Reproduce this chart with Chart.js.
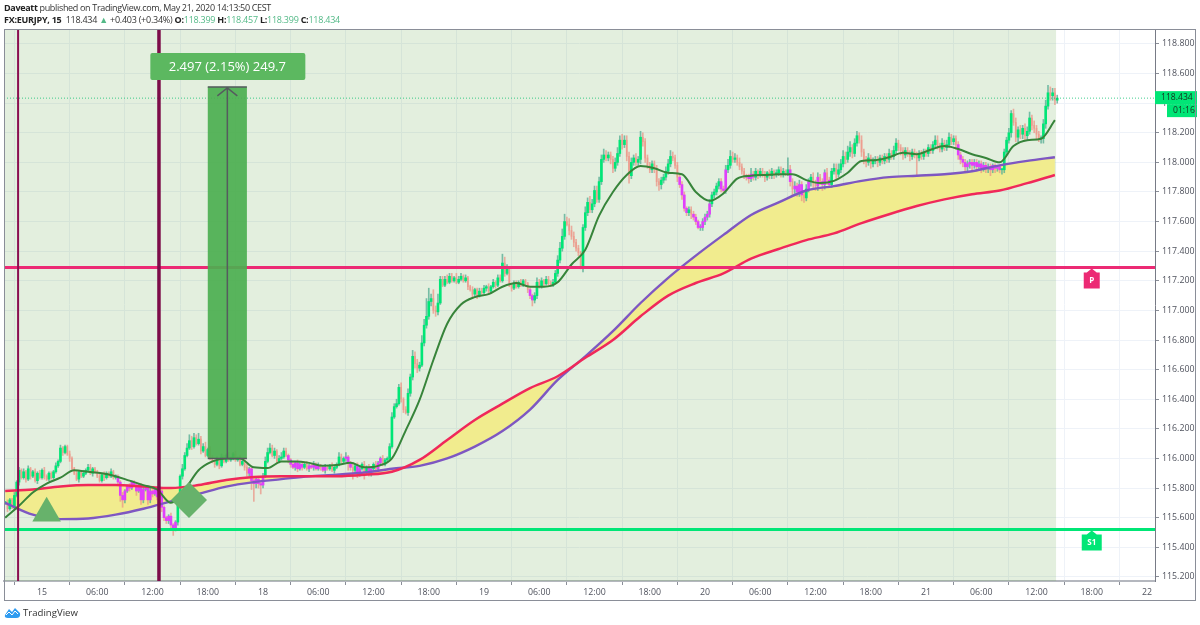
<!DOCTYPE html>
<html>
<head>
<meta charset="utf-8">
<title>FX:EURJPY, 15</title>
<script src="https://cdn.jsdelivr.net/npm/chart.js@4"></script>
<style>
html, body { margin: 0; padding: 0; background: #fff; }
#wrap { position: relative; width: 1200px; height: 625px; overflow: hidden; font-family: "Open Sans", sans-serif; color: #333; }
canvas { position: absolute; left: 0; top: 0; }
.txt { position: absolute; left: 4px; font-size: 9px; letter-spacing: -0.33px; line-height: 12px; white-space: nowrap; }
.txt b { color: #222; }
.up { color: #53b987; }
#logo { position: absolute; left: 4px; top: 606px; }
#brand { position: absolute; left: 23px; top: 606px; font-size: 9.6px; line-height: 13px; color: #333; }
</style>
</head>
<body>
<div id="wrap">
  <canvas id="myChart" width="1200" height="625"></canvas>
  <div class="txt" style="top:2px"><b>Daveatt</b> published on TradingView.com, May 21, 2020 14:13:50 CEST</div>
  <div class="txt" style="top:14px;letter-spacing:-0.25px"><b>FX:EURJPY, 15</b>&nbsp; 118.434 <span class="up">▲</span> +0.403 (+0.34%) <b>O:</b><span class="up">118.399</span> <b>H:</b><span class="up">118.457</span> <b>L:</b><span class="up">118.399</span> <b>C:</b><span class="up">118.434</span></div>
  <svg id="logo" width="17" height="13" viewBox="0 0 17 13"><path d="M1 9 L5 3 L8 6 L11 2 L16 7 Q17 12 12 12 L4 12 Q0 12 1 9 Z" fill="#2f9bf0"/><path d="M2 9 L5 6 L8 9 L11 5 L14 8" stroke="#fff" stroke-width="1" fill="none"/></svg>
  <div id="brand">TradingView</div>
</div>
<script>
// 15 minute bars, first bar is 4 hours before the "15" tick
const closes = [
115.70,115.66,115.72,115.67,115.75,115.84,115.92,115.87,115.91,115.86,
115.93,115.88,115.91,115.85,115.90,115.87,115.92,115.88,115.86,115.90,
115.87,115.91,115.95,115.98,116.07,116.04,116.08,116.03,116.00,115.93,
115.90,115.86,115.91,115.88,115.90,115.92,115.94,115.90,115.93,115.91,
115.88,115.85,115.89,115.87,115.90,115.88,115.91,115.87,115.88,115.84,
115.75,115.72,115.78,115.81,115.80,115.84,115.82,115.78,115.82,115.72,
115.79,115.80,115.72,115.78,115.76,115.79,115.74,115.78,115.67,115.60,
115.58,115.61,115.55,115.53,115.57,115.73,115.88,115.93,116.02,116.07,
116.12,116.08,116.14,116.10,116.13,116.05,116.08,116.02,116.06,116.00,
115.98,115.96,115.99,115.95,116.01,115.98,116.02,115.99,116.00,116.03,
115.99,116.00,115.96,115.98,115.94,115.90,115.93,115.85,115.83,115.86,
115.83,115.82,115.88,115.98,116.04,116.07,116.02,116.05,115.98,116.00,
116.01,116.05,116.02,115.99,115.96,115.94,115.97,115.93,115.96,115.94,
115.96,115.93,115.95,115.94,115.96,115.93,115.95,115.94,115.92,115.94,
115.93,115.95,115.92,115.94,115.96,116.01,115.98,116.00,116.01,115.97,
115.94,115.92,115.95,115.90,115.93,115.96,115.91,115.94,115.90,115.93,
115.96,115.93,115.97,116.00,115.96,115.99,116.00,116.08,116.28,116.35,
116.37,116.48,116.40,116.33,116.31,116.44,116.55,116.69,116.64,116.61,
116.63,116.78,116.90,116.96,117.06,117.08,117.00,116.99,117.05,117.21,
117.17,117.21,117.19,117.23,117.20,117.22,117.19,117.21,117.23,117.20,
117.22,117.16,117.14,117.11,117.14,117.10,117.13,117.12,117.15,117.16,
117.13,117.16,117.19,117.17,117.22,117.20,117.32,117.25,117.28,117.17,
117.15,117.18,117.16,117.19,117.17,117.20,117.18,117.14,117.10,117.07,
117.10,117.19,117.16,117.20,117.18,117.21,117.18,117.17,117.19,117.25,
117.34,117.42,117.50,117.60,117.58,117.54,117.50,117.46,117.42,117.39,
117.29,117.56,117.66,117.73,117.68,117.72,117.81,117.75,117.87,118.02,
118.05,118.03,118.05,118.02,117.96,118.00,118.06,118.15,118.12,118.15,
118.04,117.91,118.00,118.03,118.00,118.02,118.17,118.14,118.03,117.98,
117.95,117.99,117.96,117.87,117.85,117.88,117.90,117.94,117.99,118.04,
118.03,117.98,117.90,117.85,117.78,117.69,117.66,117.68,117.65,117.63,
117.60,117.56,117.56,117.60,117.63,117.65,117.72,117.78,117.80,117.84,
117.87,117.82,117.81,117.95,117.98,118.04,118.02,118.03,118.00,117.97,
117.94,117.91,117.90,117.89,117.92,117.90,117.94,117.92,117.94,117.92,
117.90,117.93,117.91,117.94,117.92,117.93,117.95,117.92,117.94,117.93,
117.95,117.87,117.82,117.84,117.80,117.85,117.78,117.76,117.82,117.87,
117.90,117.86,117.84,117.90,117.87,117.85,117.93,117.88,117.85,117.94,
117.96,117.92,117.95,117.99,118.04,118.02,118.07,118.10,118.06,118.13,
118.18,118.15,118.07,118.02,118.00,118.03,117.99,118.01,118.02,118.00,
118.03,118.01,118.04,118.02,118.06,118.04,118.08,118.13,118.10,118.08,
118.05,118.08,118.06,118.04,118.07,118.05,118.03,118.06,118.04,118.07,
118.06,118.10,118.08,118.12,118.15,118.11,118.09,118.13,118.10,118.12,
118.17,118.14,118.16,118.12,118.05,118.02,118.00,117.97,117.99,118.00,
117.98,118.00,117.97,117.99,117.96,117.98,117.96,117.97,117.95,117.98,
117.96,117.97,117.95,117.95,118.07,118.15,118.20,118.33,118.27,118.17,
118.22,118.19,118.23,118.18,118.21,118.30,118.25,118.23,118.19,118.16,
118.16,118.26,118.38,118.47,118.45,118.47,118.42,118.434];

// wick lengths above and below the body, in hundredths of a yen
const wickUp = [
1,2,1,1,2,1,2,1,2,1, 2,1,1,2,1,2,1,2,1,1, 1,1,2,1,2,1,1,1,2,1, 1,2,1,1,2,1,2,2,1,1,
1,2,1,2,1,1,2,1,1,1, 1,2,1,1,2,1,1,2,1,1, 2,1,1,2,1,1,2,1,1,1, 1,1,2,1,1,2,1,3,2,3,
4,3,3,2,4,2,2,3,1,2, 2,1,2,1,2,1,1,2,1,1, 2,1,2,1,1,2,1,1,2,1, 1,1,2,3,3,3,2,2,1,2,
3,2,2,1,1,2,1,2,1,2, 1,2,1,1,2,1,2,1,1,2, 1,1,2,1,1,3,2,1,3,1, 1,2,1,2,1,1,2,1,2,1,
1,2,1,1,2,1,1,2,3,2, 3,2,3,1,2,3,2,4,3,3, 2,5,4,12,9,3,6,3,6,2, 2,2,3,2,2,1,3,2,2,1,
2,1,1,2,1,1,2,2,2,1, 2,1,2,1,2,2,6,4,3,1, 1,2,2,1,2,1,1,1,1,1, 2,3,2,2,1,2,2,2,2,2,
3,4,5,5,3,4,3,3,2,2, 1,2,4,3,4,3,3,3,3,3, 4,3,2,2,2,3,4,3,4,3, 3,3,3,2,3,2,4,3,2,2,
2,2,2,2,2,2,2,3,3,4, 3,2,2,2,2,2,1,2,2,2, 2,1,2,2,2,2,3,2,2,2, 2,2,2,3,4,4,3,3,2,3,
2,2,1,2,4,2,2,1,2,2, 2,1,2,2,1,2,2,2,2,1, 8,3,2,3,2,3,2,2,3,2, 2,3,2,3,2,2,2,3,2,2,
3,3,4,3,4,3,4,4,2,3, 3,2,3,2,2,3,2,2,2,2, 2,2,2,2,3,2,3,3,2,2, 2,2,2,2,2,2,2,2,2,2,
2,2,2,2,3,3,2,3,2,3, 3,2,2,2,2,2,2,2,2,2, 2,2,2,2,2,2,2,2,2,1, 1,1,1,1,2,2,3,2,3,3,
2,3,2,3,3,4,2,3,2,2, 2,3,4,5,4,3,3,2];
const wickDown = [
1,2,1,1,1,1,2,1,1,2, 1,2,1,1,2,1,1,2,1,1, 1,1,1,1,1,2,1,1,2,1, 1,1,2,1,1,1,1,1,2,1,
1,1,1,2,1,1,1,1,1,1, 4,5,2,1,2,1,1,3,1,3, 2,1,3,2,2,1,2,1,3,2, 2,2,3,5,2,2,2,2,1,1,
1,2,1,1,1,2,1,1,1,1, 1,2,1,2,1,1,1,1,1,1, 1,1,1,1,2,2,2,6,12,3, 3,6,2,1,1,1,1,2,1,1,
1,1,1,2,2,1,2,2,1,2, 1,1,2,1,2,1,1,2,1,2, 1,1,1,2,1,1,1,1,2,5, 2,6,2,3,2,1,5,2,2,2,
2,2,1,1,1,1,1,1,1,1, 1,1,2,2,1,2,2,2,3,3, 2,1,2,2,2,3,2,3,2,1, 1,1,1,1,1,1,1,1,1,1,
1,2,1,2,2,2,1,1,1,2, 2,1,1,2,1,1,1,2,1,1, 2,1,1,1,1,1,2,2,2,4, 2,2,1,1,2,1,1,1,1,1,
2,2,2,2,1,3,2,3,2,2, 1,3,2,2,2,2,2,2,2,2, 2,2,2,3,3,2,2,2,3,2, 3,5,2,2,2,2,3,3,3,2,
2,2,3,3,4,3,2,2,2,2, 2,2,3,2,3,2,2,2,3,2, 2,1,2,2,2,2,2,2,2,2, 2,2,2,2,2,2,2,2,2,2,
2,2,2,3,2,2,2,3,2,2, 3,2,2,2,3,2,2,2,2,2, 2,3,4,3,3,3,4,3,2,2, 3,3,3,3,2,4,3,3,2,2,
2,3,2,2,2,3,2,3,3,2, 2,2,3,3,3,2,3,2,2,3, 2,2,2,2,2,2,2,2,2,3, 3,2,2,3,2,2,12,2,2,2,
2,2,2,2,2,2,2,2,2,2, 2,2,2,3,3,3,3,3,3,3, 3,2,3,2,3,2,3,3,4,2, 3,2,2,3,2,2,2,3,2,3,
3,3,3,3,3,2,3,3,3,2, 3,3,3,2,3,3,3,2];

// runs of bar numbers painted magenta
const magentaRuns = [[49,74],[106,112],[123,129],[132,136],[138,139],[148,150],[153,154],[158,159],[162,163],
  [228,229],[293,296],[299,306],[311,313],[322,325],[341,341],[343,346],[349,349],[353,353],[355,356],[358,358],[414,432]];

// moving averages, slow ones every 3 hours, fast one every 1.5 hours
const slowMa = [115.70,115.62,115.59,115.594,115.62,115.66,115.71,115.76,115.81,115.84,115.86,115.88,115.89,115.905,115.93,115.95,116.00,116.08,116.185,116.33,116.53,116.69,116.86,117.05,117.22,117.37,117.51,117.645,117.73,117.81,117.84,117.875,117.90,117.91,117.92,117.94,117.98,118.01,118.035];
const midMa = [115.78,115.79,115.81,115.82,115.82,115.81,115.80,115.82,115.855,115.875,115.88,115.88,115.88,115.89,115.91,115.99,116.125,116.26,116.37,116.475,116.555,116.68,116.80,116.96,117.10,117.185,117.25,117.35,117.415,117.475,117.52,117.59,117.65,117.705,117.75,117.785,117.81,117.86,117.915];
const fastMa = [115.60,115.68,115.77,115.83,115.87,115.92,115.91,115.90,115.88,115.85,115.82,115.79,115.70,115.79,115.92,115.98,116.00,116.00,115.94,115.935,115.98,115.98,115.97,115.95,115.955,115.97,115.94,115.95,116.00,116.19,116.395,116.665,116.91,117.04,117.09,117.11,117.16,117.185,117.16,117.16,117.19,117.31,117.41,117.64,117.80,117.915,117.975,117.96,117.93,117.92,117.80,117.74,117.79,117.89,117.91,117.915,117.92,117.92,117.88,117.86,117.875,117.93,118.01,118.015,118.035,118.065,118.055,118.085,118.11,118.09,118.055,118.03,118.00,118.11,118.15,118.16,118.285];

const timeLabels = ['15','06:00','12:00','18:00','18','06:00','12:00','18:00','19','06:00','12:00','18:00','20','06:00','12:00','18:00','21','06:00','12:00','18:00','22'];

const lastPrice = 118.434;
const pivotP = 117.29;
const pivotS1 = 115.52;
const sessionLines = [-2.6, 12.7];
const trianglePoint = {x: 0.5, y: 115.63};
const diamondPoint = {x: 15.96, y: 115.72};
const moveBox = {x0: 18, x1: 22.25, low: 116.00, high: 118.51, label: '2.497 (2.15%) 249.7'};
const tagHour = 114;

const xMin = -4.13, xMax = 120.87, yMin = 115.172, yMax = 118.901;
const lastBarHour = 110.15;

function barHour(i) { return -4 + 0.25 * i; }

function isMagenta(i) {
    return magentaRuns.some(function (r) { return i >= r[0] && i <= r[1]; });
}

// down bars are drawn thinner, they read as pale slivers in the chart
const wickData = [], bodyData = [], downData = [], wickColors = [], bodyColors = [];
closes.forEach(function (c, i) {
    const o = i == 0 ? c : closes[i - 1];
    const hi = Math.max(o, c) + (wickUp[i] || 0) / 100;
    const lo = Math.min(o, c) - (wickDown[i] || 0) / 100;
    wickData.push({x: barHour(i), y: [lo, hi]});
    wickColors.push(c >= o ? 'rgba(90,175,150,0.8)' : 'rgba(235,150,135,0.75)');
    if (isMagenta(i)) {
        bodyData.push({x: barHour(i), y: [o, c]});
        bodyColors.push('#e040fb');
    } else if (c >= o) {
        bodyData.push({x: barHour(i), y: [o, c]});
        bodyColors.push('#00e676');
    } else {
        downData.push({x: barHour(i), y: [o, c]});
    }
});

function maLine(values, step) {
    return values.map(function (v, i) { return {x: -4 + step * i, y: v}; });
}
function hLine(p) { return [{x: xMin, y: p}, {x: xMax, y: p}]; }
function vLine(h) { return [{x: h, y: yMin}, {x: h, y: yMax}]; }

const annotations = {
    id: 'annotations',
    afterDatasetsDraw(chart) {
        const c = chart.ctx, sx = chart.scales.x, sy = chart.scales.y;
        // price move box with arrow
        const x0 = sx.getPixelForValue(moveBox.x0), x1 = sx.getPixelForValue(moveBox.x1);
        const yT = sy.getPixelForValue(moveBox.high), yB = sy.getPixelForValue(moveBox.low);
        const xc = (x0 + x1) / 2;
        c.save();
        c.fillStyle = 'rgba(76,175,80,0.92)';
        c.fillRect(x0, yT, x1 - x0, yB - yT);
        c.strokeStyle = '#555b5e';
        c.lineWidth = 1.5;
        c.beginPath();
        c.moveTo(x0, yT); c.lineTo(x1, yT);
        c.moveTo(x0, yB); c.lineTo(x1, yB);
        c.moveTo(xc, yB); c.lineTo(xc, yT);
        c.moveTo(xc - 10, yT + 9); c.lineTo(xc, yT + 1); c.lineTo(xc + 10, yT + 9);
        c.stroke();
        // move label sits above the box
        c.fillStyle = '#5cb860';
        c.beginPath();
        c.roundRect(xc - 77, yT - 34, 155, 27, 2);
        c.fill();
        c.fillStyle = '#fff';
        c.font = '13px "Open Sans"';
        c.textAlign = 'center';
        c.textBaseline = 'middle';
        c.fillText(moveBox.label, xc, yT - 20);

        // pivot tags
        drawTag(c, sx.getPixelForValue(tagHour), sy.getPixelForValue(pivotP), 'P', '#ec2a74', 8);
        drawTag(c, sx.getPixelForValue(tagHour), sy.getPixelForValue(pivotS1), 'S1', '#00e676', 10);

        // last price and countdown on the axis
        const yL = sy.getPixelForValue(lastPrice);
        c.fillStyle = '#00e676';
        c.fillRect(sx.right, yL - 7, 42, 13);
        c.fillRect(sx.right + 12, yL + 6, 30, 13);
        c.fillStyle = '#17301f';
        c.font = '8.6px "Open Sans"';
        c.textAlign = 'left';
        c.fillText(lastPrice.toFixed(3), sx.right + 6, yL - 0.5);
        c.fillText('01:16', sx.right + 18, yL + 12.5);

        // frame
        c.strokeStyle = '#8a8e98';
        c.lineWidth = 1;
        c.strokeRect(4.5, 29.5, 1191, 571);
        c.restore();
    }
};

function drawTag(c, x, y, text, color, half) {
    c.fillStyle = color;
    c.beginPath();
    c.moveTo(x, y + 1);
    c.lineTo(x + 5, y + 5);
    c.lineTo(x + half, y + 5);
    c.lineTo(x + half, y + 21);
    c.lineTo(x - half, y + 21);
    c.lineTo(x - half, y + 5);
    c.lineTo(x - 5, y + 5);
    c.closePath();
    c.fill();
    c.fillStyle = '#fff';
    c.font = 'bold 8px "Open Sans"';
    c.textAlign = 'center';
    c.textBaseline = 'middle';
    c.fillText(text, x, y + 13.5);
}

window.addEventListener('load', function () {
    const ctx = document.getElementById('myChart').getContext('2d');
    new Chart(ctx, {
        type: 'bar',
        data: {
            datasets: [
                {type: 'line', data: [{x: xMin, y: yMax}, {x: lastBarHour, y: yMax}], borderWidth: 0, pointRadius: 0, fill: 'start', backgroundColor: 'rgba(100,165,70,0.18)', order: 90},
                {type: 'line', data: maLine(slowMa, 3), borderColor: '#7e57c2', borderWidth: 2.4, pointRadius: 0, cubicInterpolationMode: 'monotone', order: 6},
                {type: 'line', data: maLine(midMa, 3), borderColor: '#f0285a', borderWidth: 2.5, pointRadius: 0, cubicInterpolationMode: 'monotone', fill: {target: 1, above: '#f1ec8e', below: '#f1ec8e'}, order: 5},
                {data: wickData, backgroundColor: wickColors, barThickness: 1, grouped: false, order: 12},
                {data: downData, backgroundColor: 'rgba(239,154,140,0.85)', barThickness: 1, minBarLength: 1, grouped: false, order: 11},
                {data: bodyData, backgroundColor: bodyColors, barThickness: 2, minBarLength: 1, grouped: false, order: 10},
                {type: 'line', data: maLine(fastMa, 1.5), borderColor: '#37843a', borderWidth: 2, pointRadius: 0, cubicInterpolationMode: 'monotone', order: 4},
                {type: 'line', data: hLine(lastPrice), borderColor: 'rgba(0,190,105,0.75)', borderWidth: 1, borderDash: [1, 2], pointRadius: 0, order: 3},
                {type: 'line', data: hLine(pivotP), borderColor: '#ec2a74', borderWidth: 3, pointRadius: 0, order: 3},
                {type: 'line', data: hLine(pivotS1), borderColor: '#00e676', borderWidth: 3, pointRadius: 0, order: 3},
                {type: 'line', data: vLine(sessionLines[0]), borderColor: '#8a0f50', borderWidth: 2, pointRadius: 0, order: 2},
                {type: 'line', data: vLine(sessionLines[1]), borderColor: '#7d0c49', borderWidth: 3.5, pointRadius: 0, order: 2},
                {type: 'line', data: [trianglePoint], showLine: false, pointStyle: 'triangle', pointRadius: 16.5, pointBackgroundColor: '#67b26b', pointBorderWidth: 0, order: 1},
                {type: 'line', data: [diamondPoint], showLine: false, pointStyle: 'rectRot', pointRadius: 18, pointBackgroundColor: '#67b26b', pointBorderWidth: 0, order: 1}
            ]
        },
        options: {
            responsive: false,
            animation: false,
            layout: {autoPadding: false, padding: {left: 4, top: 29, right: 5, bottom: 25}},
            plugins: {
                legend: {display: false},
                tooltip: {enabled: false},
                filler: {drawTime: 'beforeDatasetsDraw'}
            },
            scales: {
                x: {
                    type: 'linear',
                    min: xMin,
                    max: xMax,
                    offset: false,
                    afterFit: function (s) { s.height = 19; },
                    border: {color: '#b4b7be', width: 2},
                    grid: {color: '#eef2f8', tickLength: 4, tickColor: '#8a8e98'},
                    ticks: {
                        stepSize: 6,
                        includeBounds: false,
                        autoSkip: false,
                        maxRotation: 0,
                        padding: 2,
                        color: '#50535e',
                        font: {family: '"Open Sans"', size: 8.8},
                        callback: function (v) { return timeLabels[Math.round(v / 6)]; }
                    }
                },
                y: {
                    position: 'right',
                    min: yMin,
                    max: yMax,
                    afterFit: function (s) { s.width = 40; },
                    border: {color: '#787b86', width: 1},
                    grid: {color: '#eef2f8', tickLength: 4, tickColor: '#8a8e98'},
                    ticks: {
                        stepSize: 0.2,
                        includeBounds: false,
                        autoSkip: false,
                        padding: 3,
                        color: '#50535e',
                        font: {family: '"Open Sans"', size: 8.8},
                        callback: function (v) { return v.toFixed(3); }
                    }
                }
            }
        },
        plugins: [annotations]
    });
});
</script>
</body>
</html>
